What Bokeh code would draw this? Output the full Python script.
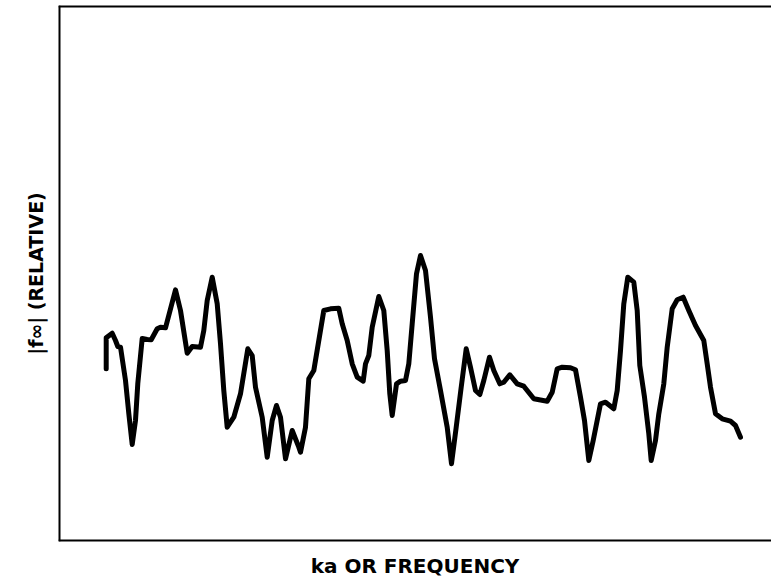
from bokeh.plotting import figure
from bokeh.models import Range1d, Span, Title, FixedTicker
from bokeh.embed import file_html
from bokeh.resources import INLINE

# ka (arbitrary units) and |f_inf| (relative)
ka = [105.7, 105.7, 111.7, 115, 117.3, 120, 125, 128.3, 131.7, 135, 137.3, 141.7, 146.7, 150.7,
      156.7, 160, 165, 175, 180, 186.7, 191.7, 200, 203.3, 206.7, 211.7, 216.7, 220, 223.3,
      226.7, 233.3, 240, 247.3, 251.7, 255, 261.7, 266.7, 271.7, 276, 280, 285, 291.7, 298.3,
      300, 305, 308.3, 313.3, 318.3, 323.3, 330, 338.3, 341.7, 346.7, 351.7, 356.7, 362.7,
      365, 368.3, 371.7, 378.3, 383.3, 386.7, 389.3, 391.7, 396, 400, 405, 408.3, 411.7, 416,
      420, 425, 430, 434, 440, 446.7, 451, 455.7, 460.7, 465.7, 470, 475, 479.3, 483.3, 489,
      493.3, 499.3, 503.3, 509.3, 516.7, 523.3, 526.7, 533.3, 546.7, 551.7, 556.7, 561.7,
      570, 575, 580, 584, 588.3, 592.7, 600, 605, 613.3, 616.7, 620, 623.3, 627.3, 633.3,
      636.7, 639.3, 644, 648.3, 650.7, 655, 658.3, 663.3, 666.7, 671.7, 676.7, 682.7, 688.3,
      695, 703.3, 706.7, 710, 715, 721.7, 730, 735, 740]
f_rel = [172.7, 203.7, 208.3, 201, 195, 194.3, 161, 128, 97, 121, 158, 203, 202, 201.7,
         212.7, 214.3, 213.7, 251.7, 231, 188.3, 195, 194.3, 211, 241, 264.3, 237.7, 197.7, 151,
         114.3, 124.3, 147.7, 192.7, 186, 154.3, 124.3, 84.3, 121, 136, 124.3, 82.7, 111, 94.3,
         89.3, 114.3, 162.7, 171, 201, 231, 232.7, 233.3, 217.7, 201, 177.7, 164.3, 160.3,
         177.7, 186, 214.3, 245, 231, 191, 147.7, 126, 157.7, 160.3, 161, 177.7, 217.7, 267.7,
         286, 271, 224.3, 182.7, 151, 114.3, 77.7, 114.3, 154.3, 192.7, 174.3, 151, 147, 161, 184.3,
         171, 157.7, 159.3, 166.7, 157.7, 155.3, 151, 142.7, 140.3, 149.3, 172.7, 174.3,
         173.7, 171.7, 144.3, 121, 81, 101, 137.7, 139.3, 132.7, 151, 191, 237.7, 264.3, 259.3,
         231, 176, 144.3, 107.7, 81, 101, 127.7, 157.7, 194.3, 232.7, 241.7, 244.3, 231,
         216, 201, 177.7, 154.3, 127.7, 122.7, 120.3, 116, 104.3]

X_MIN, X_MAX = 58, 771
Y_MIN, Y_MAX = 0, 536

p = figure(width=771, height=584, output_backend="svg", toolbar_location=None,
           x_range=Range1d(X_MIN, X_MAX), y_range=Range1d(Y_MIN, Y_MAX),
           min_border_left=58, min_border_right=0, min_border_top=5, min_border_bottom=43)

p.line(ka, f_rel, line_color="black", line_width=5, line_join="round", line_cap="round")

p.grid.visible = False
p.outline_line_color = None
p.background_fill_color = "white"
p.border_fill_color = "white"

# frame: left, top and bottom edges (the right edge lies off the picture)
p.add_layout(Span(location=X_MIN, dimension="height", line_color="black", line_width=4))
p.add_layout(Span(location=Y_MAX, dimension="width", line_color="black", line_width=4))
p.add_layout(Span(location=Y_MIN, dimension="width", line_color="black", line_width=4))

p.yaxis.visible = False
xa = p.xaxis[0]
xa.ticker = FixedTicker(ticks=[])
xa.major_tick_out = 0
xa.major_tick_in = 0
xa.major_label_standoff = 0
xa.minor_tick_line_color = None
xa.axis_line_color = None
xa.axis_label = "ka OR FREQUENCY"
xa.axis_label_text_font = "DejaVu Sans"
xa.axis_label_text_font_style = "bold"
xa.axis_label_text_font_size = "20px"
xa.axis_label_text_color = "black"
xa.axis_label_standoff = 12

p.add_layout(Title(text="|f\u221e| (RELATIVE)", align="center", offset=33,
                   text_font="DejaVu Sans", text_font_style="bold",
                   text_font_size="19px", text_color="black", standoff=24), "left")

open("out.html", "w").write(file_html(p, INLINE))
